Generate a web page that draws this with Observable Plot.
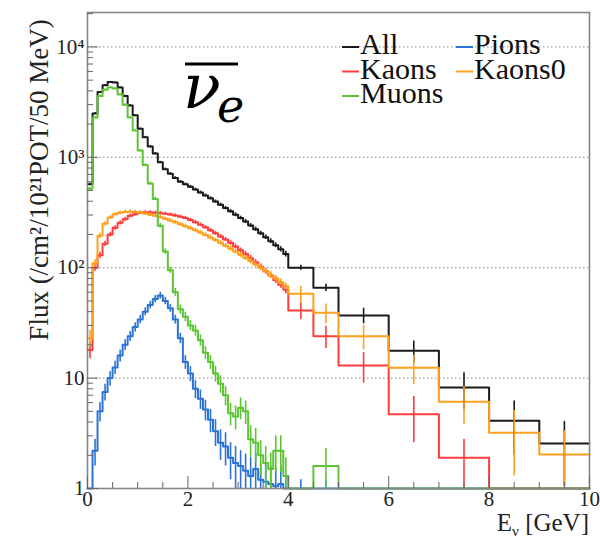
<!DOCTYPE html>
<html><head><meta charset="utf-8">
<script src="https://cdn.jsdelivr.net/npm/d3@7"></script>
<script src="https://cdn.jsdelivr.net/npm/@observablehq/plot@0.6"></script>
<style>
body{margin:0;background:#fff}
#chart{width:600px;height:539px}
#chart svg text, #chart svg tspan{font-family:"Liberation Serif","DejaVu Serif",serif !important}
#chart svg text.nu, #chart svg text.nu tspan{font-family:"DejaVu Serif",serif !important;font-style:italic}
</style>
</head><body><div id="chart"></div>
<script>
// ---- data ----
const binEdges = [0,0.1,0.2,0.3,0.4,0.5,0.6,0.7,0.8,0.9,1.0,1.1,1.2,1.3,1.4,1.5,1.6,1.7,1.8,1.9,2.0,2.1,2.2,2.3,2.4,2.5,2.6,2.7,2.8,2.9,3.0,3.1,3.2,3.3,3.4,3.5,3.6,3.7,3.8,3.9,4.0,4.5,5,6,7,8,9,10];
const seriesNames = ["All","Kaons","Kaons0","Muons","Pions"];
const seriesColors = ["#1a1a1a","#ff3c3c","#ffa01c","#5cc435","#2c74d4"];
const legendOrder = ["All","Pions","Kaons","Kaons0","Muons"];
const drawOrder = ["All","Pions","Kaons","Kaons0","Muons"];

const allFlux = [570,2500,3900,4500,4800,4750,4300,3600,2950,2400,1810,1520,1250,1080,900,780,710,650,600,570,540,510,480,452,425,398,372,347,324,302,282,262,241,223,205,189,174,160,147,133,100,66,37,17.7,8.2,4.1,2.55];
const kaonsFlux = [18,100,130,165,200,230,255,275,295,305,315,318,318,315,312,308,303,297,290,282,270,258,245,232,218,205,192,180,168,156,144,133,122,112,102,93,85,77,70,63,41,24,13,4.7,1.9,0,0];
const kaons0Flux = [23,110,195,250,285,305,315,320,322,320,315,310,302,295,287,278,268,258,248,238,228,218,208,198,188,178,168,158,149,140,131,123,115,107,100,93,86,80,74,68,58,39,24,12.4,6.1,3.2,2.03];
const muonsFlux = [520,2300,3600,4100,4300,4200,3700,3000,2300,1750,1150,850,580,420,240,140,95,60,42,36,30,27,22,17,14,11,8.9,7,4.8,4.5,5.4,5.0,2.8,2.6,2.0,1.7,1.5,2.2,2.2,1.3,0,1.6,0,0,0,0,0];
const pionsFlux = [0,2.2,5,7.5,10,12.5,16,20,24,29,34,40,46,52,56,50,43,34,23,14,11,8,6.5,5.2,4.2,3.3,2.6,2.4,1.9,1.7,1.6,1.45,1.3,1.5,1.2,1.15,1.1,1.05,1.1,0.9,0.9,0.9,0,0,0,0,0];

const allErr = [12,40,50,55,55,55,50,45,40,35,30,28,25,23,21,19,18,17,17,16,16,15,15,14,14,13,13,12,12,12,11,11,10,10,9,9,9,8,8,8,5,5,6,4,3,2.1,1.5];
const kaonsErr = [3,7,8,9,10,10,11,11,11,11,11,11,11,11,11,11,11,10,10,10,10,10,9,9,9,9,8,8,8,8,7,7,7,6,6,6,5,5,5,5,7,5.5,4,2.1,0.9,0,0];
const kaons0Err = [4,8,10,11,11,11,11,11,11,11,11,11,11,11,11,10,10,10,10,10,10,9,9,9,9,8,8,8,8,7,7,7,7,6,6,6,6,5,5,5,10,8,6,3.7,2.3,1.9,1.3];
const muonsErr = [12,35,45,50,50,50,45,40,35,30,25,22,18,15,11,8,6,5,4,3.5,3.2,3,2.6,2.3,2,1.8,1.6,1.4,1.1,1.1,1.2,1.2,0.9,0.9,0.7,0.7,0.6,0.8,0.8,0.6,0,0.7,0,0,0,0,0];
const pionsErr = [0,0.6,1,1.3,1.5,1.7,2,2.2,2.5,2.8,3,3.3,3.6,3.9,4,3.8,3.5,3.1,2.5,2,1.7,1.5,1.3,1.1,1,0.9,0.8,0.8,0.7,0.7,0.6,0.6,0.6,0.6,0.5,0.5,0.5,0.5,0.5,0.4,0.3,0.3,0,0,0,0,0];

const yTicks = [1,10,100,1000,10000];
const yTickLabels = ["1","10","10²","10³","10⁴"];
const yMinorTicks = [2,3,4,5,6,7,8,9,20,30,40,50,60,70,80,90,200,300,400,500,600,700,800,900,2000,3000,4000,5000,6000,7000,8000,9000,20000];
const xTicks = [0,2,4,6,8,10];
const xMinorTicks = [0.5,1,1.5,2.5,3,3.5,4.5,5,5.5,6.5,7,7.5,8.5,9,9.5];
const yTitle = "Flux (/cm²/10²¹POT/50 MeV)";
const xTitleMain = "E", xTitleSub = "ν", xTitleUnit = " [GeV]";
const yDomain = [1, 20500];

// ---- build tables ----
const fluxBySeries = {All: allFlux, Kaons: kaonsFlux, Kaons0: kaons0Flux, Muons: muonsFlux, Pions: pionsFlux};
const errBySeries = {All: allErr, Kaons: kaonsErr, Kaons0: kaons0Err, Muons: muonsErr, Pions: pionsErr};
const colorOf = Object.fromEntries(seriesNames.map((n, i) => [n, seriesColors[i]]));
const yMin = yDomain[0];
const stepRows = [], errRows = [];
for (const s of drawOrder) {
  const v = fluxBySeries[s], e = errBySeries[s];
  for (let i = 0; i < v.length; i++) {
    const y = Math.max(v[i], yMin * 0.999);
    stepRows.push({series: s, x: binEdges[i], y});
    stepRows.push({series: s, x: binEdges[i + 1], y});
    if (v[i] > 0 && e[i] > 0) {
      errRows.push({series: s, x: (binEdges[i] + binEdges[i + 1]) / 2,
        lo: Math.max(v[i] - e[i], yMin * 0.999), hi: v[i] + e[i]});
    }
  }
}
const labelOf = new Map(yTicks.map((t, i) => [t, yTickLabels[i]]));
const serif = "Liberation Serif";

const chart = Plot.plot({
  width: 600, height: 539,
  marginLeft: 87, marginRight: 11, marginTop: 12, marginBottom: 51,
  style: {fontFamily: serif, fontSize: "20px", color: "#222", background: "#fff"},
  x: {domain: [0, 10]},
  y: {type: "log", domain: yDomain, clamp: true},
  color: {domain: seriesNames, range: seriesColors},
  marks: [
    Plot.gridY(yTicks.slice(1), {stroke: "#555", strokeOpacity: 0.7, strokeDasharray: "1.5,2.5", strokeWidth: 1}),
    Plot.line(stepRows, {x: "x", y: "y", z: "series", stroke: "series", strokeWidth: 2, curve: "linear"}),
    Plot.ruleX(errRows, {x: "x", y1: "lo", y2: "hi", stroke: "series", strokeWidth: 1.6}),
    Plot.frame({stroke: "#858585", strokeWidth: 1.6}),
    Plot.axisY(yTicks, {tickSize: -11, text: null, label: null, stroke: "#666"}),
    Plot.axisY(yMinorTicks.filter(d => d <= yDomain[1]), {tickSize: -6, text: null, label: null, stroke: "#666"}),
    Plot.axisY(yTicks, {tickSize: 0, tickPadding: 3, tickFormat: d => labelOf.get(d), label: null, fontSize: 21}),
    Plot.axisX(xTicks, {tickSize: -12, text: null, label: null, stroke: "#666"}),
    Plot.axisX(xMinorTicks, {tickSize: -6, text: null, label: null, stroke: "#666"}),
    Plot.axisX(xTicks, {tickSize: 0, tickPadding: 3, label: null, fontSize: 21})
  ]
});
document.getElementById("chart").appendChild(chart);

// ---- annotations ----
const svg = d3.select(chart);
// y title
svg.append("text").attr("transform", "translate(48,180) rotate(-90)")
  .attr("text-anchor", "middle").attr("font-size", 27).attr("fill", "#222").text(yTitle);
// x title
const xt = svg.append("text").attr("x", 589).attr("y", 531).attr("text-anchor", "end")
  .attr("font-size", 25).attr("fill", "#222");
xt.append("tspan").text(xTitleMain);
xt.append("tspan").attr("font-size", 15).attr("dy", 5).text(xTitleSub);
xt.append("tspan").attr("dy", -5).text(xTitleUnit);
// legend
const lg = svg.append("g").attr("font-size", 30).attr("fill", "#111").attr("text-anchor", "start");
legendOrder.forEach((name, i) => {
  const col = i % 2, row = Math.floor(i / 2);
  const x0 = col ? 456 : 342, yb = 54 + row * 24.5;
  lg.append("line").attr("x1", x0).attr("x2", x0 + 17).attr("y1", yb - 7).attr("y2", yb - 7)
    .attr("stroke", colorOf[name]).attr("stroke-width", 2);
  lg.append("text").attr("x", x0 + 18).attr("y", yb).attr("text-anchor", "start").text(name);
});
// big nu-bar_e label
const nu = svg.append("g").attr("fill", "#000").attr("text-anchor", "start");
nu.append("text").attr("class", "nu").attr("x", 183).attr("y", 108).attr("font-size", 62).text("ν");
nu.append("text").attr("class", "nu").attr("x", 217).attr("y", 122).attr("font-size", 46).text("e");
nu.append("line").attr("x1", 185).attr("x2", 238).attr("y1", 64).attr("y2", 64).attr("stroke", "#000").attr("stroke-width", 3);
</script>
</body></html>
